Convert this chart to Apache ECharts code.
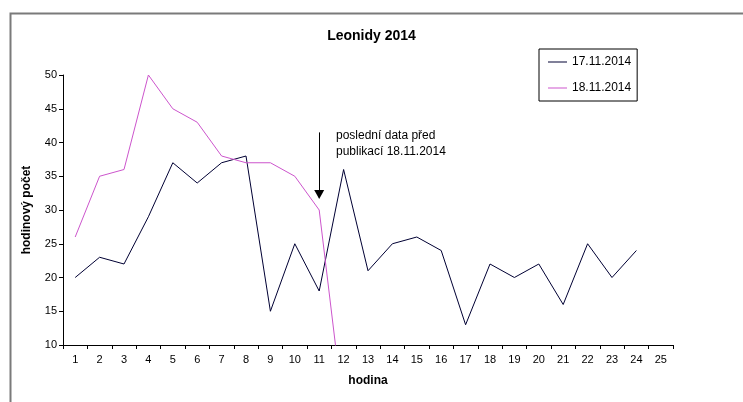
<!DOCTYPE html>
<html>
<head>
<meta charset="utf-8">
<script src="https://cdn.jsdelivr.net/npm/echarts@6/dist/echarts.min.js"></script>
<style>
  html, body { margin: 0; padding: 0; background: #fff; }
  #chart { width: 743px; height: 402px; }
</style>
</head>
<body>
<div id="chart"></div>
<script>
// Hour of observation (1..25)
const hours = ['1','2','3','4','5','6','7','8','9','10','11','12','13','14','15','16','17','18','19','20','21','22','23','24','25'];
// Hourly counts, night of 17.11.2014
const counts17 = [20, 23, 22, 29, 37, 34, 37, 38, 15, 25, 18, 36, 21, 25, 26, 24, 13, 22, 20, 22, 16, 25, 20, 24];
// Hourly counts, night of 18.11.2014 (data ends at hour 12)
const counts18 = [26, 35, 36, 50, 45, 43, 38, 37, 37, 35, 30, 0];
// Y axis range and step
const yMin = 10, yMax = 50, yStep = 5;
// Arrow marking the last data before publication: hour index, start and end value
const arrowHour = 10, arrowFrom = 41.5, arrowTo = 32.3;

const FONT = "'Liberation Sans', Arial, sans-serif";
const chart = echarts.init(document.getElementById('chart'), null, { renderer: 'canvas' });

chart.setOption({
  backgroundColor: '#ffffff',
  animation: false,
  textStyle: { fontFamily: FONT, color: '#000' },
  title: {
    text: 'Leonidy 2014',
    left: 'center',
    top: 24,
    textStyle: { fontFamily: FONT, fontSize: 14, fontWeight: 'bold', color: '#000' }
  },
  legend: {
    orient: 'vertical',
    left: 539,
    top: 49,
    padding: [7, 6, 7, 9],
    itemGap: 14,
    itemWidth: 19,
    itemHeight: 1,
    icon: 'rect',
    borderColor: '#000',
    borderWidth: 1,
    textStyle: { fontFamily: FONT, fontSize: 12, color: '#000' },
    data: ['17.11.2014', '18.11.2014']
  },
  grid: { left: 63, top: 75, right: 70, bottom: 57 },
  xAxis: {
    type: 'category',
    data: hours,
    boundaryGap: true,
    name: 'hodina',
    nameLocation: 'middle',
    nameGap: 30,
    nameTextStyle: { fontFamily: FONT, fontSize: 12, fontWeight: 'bold', color: '#000' },
    axisLine: { lineStyle: { color: '#000', width: 1 } },
    axisTick: { show: true, interval: 0, length: 4, lineStyle: { color: '#000' } },
    axisLabel: { interval: 0, fontSize: 11, color: '#000', margin: 9 },
    splitLine: { show: false }
  },
  yAxis: {
    type: 'value',
    min: yMin,
    max: yMax,
    interval: yStep,
    name: 'hodinový počet',
    nameLocation: 'middle',
    nameGap: 30,
    nameRotate: 90,
    nameTextStyle: { fontFamily: FONT, fontSize: 12, fontWeight: 'bold', color: '#000' },
    axisLine: { show: true, lineStyle: { color: '#000', width: 1 } },
    axisTick: { show: true, length: 4, lineStyle: { color: '#000' } },
    axisLabel: { fontSize: 11, color: '#000', margin: 6 },
    splitLine: { show: false }
  },
  series: [
    {
      name: '17.11.2014',
      type: 'line',
      data: counts17,
      symbol: 'none',
      showSymbol: false,
      clip: true,
      lineStyle: { color: '#000033', width: 1 },
      itemStyle: { color: '#000033' },
      markLine: {
        silent: true,
        animation: false,
        symbol: ['none', 'triangle'],
        symbolSize: [10, 9],
        label: { show: false },
        lineStyle: { color: '#000', width: 1, type: 'solid' },
        data: [[
          { coord: [arrowHour, arrowFrom] },
          { coord: [arrowHour, arrowTo] }
        ]]
      }
    },
    {
      name: '18.11.2014',
      type: 'line',
      data: counts18,
      symbol: 'none',
      showSymbol: false,
      clip: true,
      lineStyle: { color: '#CC55CC', width: 1 },
      itemStyle: { color: '#CC55CC' }
    }
  ],
  graphic: [
    {
      type: 'rect',
      left: 8, top: 11,
      shape: { width: 800, height: 500 },
      style: { fill: 'none', stroke: '#7a7a7a', lineWidth: 2 },
      silent: true,
      z: -1
    },
    {
      type: 'text',
      left: 336, top: 128,
      style: {
        text: 'poslední data před\npublikací 18.11.2014',
        font: "12px 'Liberation Sans', Arial, sans-serif",
        lineHeight: 16,
        fill: '#000'
      }
    }
  ]
});
</script>
</body>
</html>
